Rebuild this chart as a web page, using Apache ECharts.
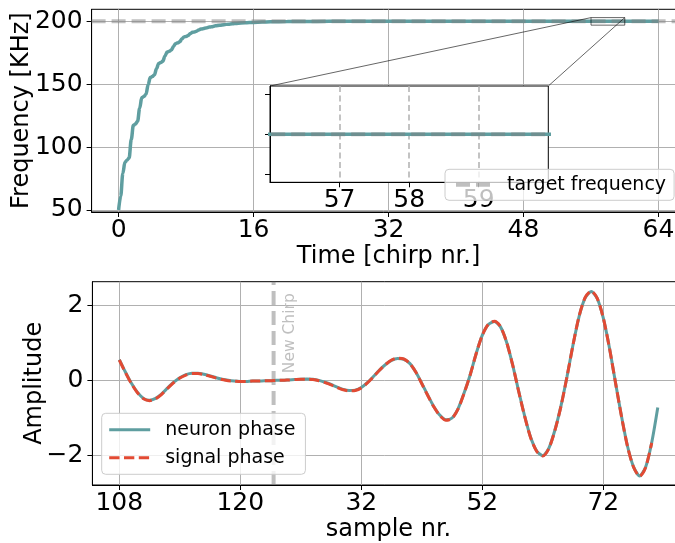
<!DOCTYPE html>
<html><head><meta charset="utf-8">
<script src="https://cdn.jsdelivr.net/npm/echarts@6/dist/echarts.min.js"></script>
<style>html,body{margin:0;padding:0;background:#fff}#c{width:675px;height:543px}</style>
</head><body><div id="c"></div><script>
// ---------- data ----------
const timeChirps = [0,0.25,0.5,0.75,1,1.25,1.5,1.75,2,2.25,2.5,2.75,3,3.25,3.5,3.75,4,4.25,4.5,4.75,5,5.25,5.5,5.75,6,6.25,6.5,6.75,7,7.25,7.5,7.75,8,8.25,8.5,8.75,9,9.25,9.5,9.75,10,10.5,10.75,11,11.5,12,12.5,13,13.5,14,15,16,17,18,20,22,25,64];
const freqKHz = [50,61,79,88,89.6,91.5,106,117.3,118.4,120.5,131,139.4,140.2,142,149.5,155.3,156.1,157.5,162.5,166.5,167.2,168.4,172.5,175.6,176.2,177.2,180,182.3,182.9,183.8,186,187.6,188,188.7,190.3,191.3,191.6,192.2,193.2,193.9,194.1,195,195.5,195.7,196.5,196.9,197.4,197.8,198.1,198.4,198.9,199.2,199.45,199.6,199.8,199.9,200,200];
const targetFrequency = 200;
const timeTicks = [0,16,32,48,64];
const freqTicks = [50,100,150,200];
const insetTimeTicks = [57,58,59];
const insetFreqTicks = [197.5,200,202.5];

const neuronPhase = [0.55,0.22,-0.08,-0.32,-0.48,-0.53,-0.48,-0.36,-0.2,-0.05,0.07,0.15,0.19,0.19,0.16,0.12,0.07,0.03,0.0,-0.02,-0.03,-0.03,-0.02,-0.02,-0.01,-0.01,0.0,0.0,0.01,0.02,0.03,0.035,0.03,0.0,-0.05,-0.11,-0.18,-0.24,-0.27,-0.26,-0.19,-0.06,0.1,0.27,0.42,0.53,0.58,0.56,0.45,0.22,-0.08,-0.4,-0.7,-0.93,-1.05,-1.0,-0.75,-0.33,0.15,0.72,1.2,1.48,1.56,1.42,1.02,0.42,-0.28,-0.95,-1.52,-1.88,-2.0,-1.8,-1.32,-0.68,0.1,0.95,1.7,2.19,2.36,2.17,1.65,0.87,-0.05,-0.95,-1.75,-2.3,-2.54,-2.3,-1.65,-0.72];
const signalPhase = [0.54,0.21,-0.09,-0.33,-0.49,-0.54,-0.49,-0.37,-0.21,-0.06,0.06,0.14,0.18,0.18,0.15,0.11,0.06,0.02,-0.01,-0.02,-0.03,-0.03,-0.02,-0.02,-0.01,-0.01,0.0,0.0,0.01,0.02,0.03,0.03,0.02,-0.01,-0.06,-0.12,-0.19,-0.25,-0.28,-0.27,-0.2,-0.07,0.09,0.27,0.42,0.54,0.59,0.57,0.45,0.22,-0.09,-0.41,-0.71,-0.94,-1.06,-1.01,-0.76,-0.34,0.15,0.72,1.2,1.49,1.57,1.43,1.02,0.42,-0.29,-0.96,-1.53,-1.89,-2.01,-1.81,-1.33,-0.69,0.1,0.95,1.71,2.2,2.37,2.18,1.65,0.87,-0.05,-0.96,-1.76,-2.31,-2.55,-2.31,-1.66];
const sampleTickPositions = [0,20,40,60,80];
const sampleTickLabels = ['108','120','32','52','72'];
const amplitudeTicks = [-2,0,2];
const newChirpSample = 25.5;
const newChirpTextAt = 0.19;

// ---------- ranges / styles ----------
const topX = [-3.2, 67.2], topY = [48.4, 209.6];
const botX = [-4.45, 93.45], botY = [-2.78, 2.62];
const insX = [56, 60], insY = [197, 203];
const FONT = 'DejaVu Sans';
const TEAL = '#5F9EA0', RED = '#E24A33', GRIDC = '#b0b0b0', GREYA = 'rgba(128,128,128,0.5)';

function xy(xs, ys){ return xs.map((x,i)=>[x, ys[i]]); }
function axisBase(extra){
  return Object.assign({
    type:'value',
    axisLine:{show:true, onZero:false, lineStyle:{color:'#000', width:1}},
    axisTick:{show:true, length:5, lineStyle:{color:'#000', width:1}},
    axisLabel:{color:'#000', fontFamily:FONT, fontSize:25},
    splitLine:{show:true, lineStyle:{color:GRIDC, width:1}},
    nameTextStyle:{color:'#000', fontFamily:FONT, fontSize:24},
    nameLocation:'middle'
  }, extra);
}
const minusFmt = v => (v < 0 ? '\u2212' + Math.abs(v) : String(v));

const chart = echarts.init(document.getElementById('c'), null, {renderer:'canvas'});
const gridBase = {show:true, borderColor:'#000', borderWidth:1, containLabel:false, outerBoundsMode:'none'};
const option = {
  animation:false,
  backgroundColor:'#fff',
  grid:[
    Object.assign({left:91.6, top:9.3, width:593.9, height:202.7, backgroundColor:'transparent'}, gridBase),
    Object.assign({left:92.4, top:281.7, width:592.3, height:203.3, backgroundColor:'transparent'}, gridBase),
    Object.assign({left:270, top:86, width:278.3, height:96.3, backgroundColor:'#fff', z:5}, gridBase)
  ],
  xAxis:[
    axisBase({gridIndex:0, min:topX[0], max:topX[1], name:'Time [chirp nr.]', nameGap:33,
      axisTick:{show:true, length:5, customValues:timeTicks, lineStyle:{color:'#000'}},
      axisLabel:{color:'#000', fontFamily:FONT, fontSize:25, margin:6, customValues:timeTicks}}),
    axisBase({gridIndex:1, min:botX[0], max:botX[1], name:'sample nr.', nameGap:33,
      axisTick:{show:true, length:5, customValues:sampleTickPositions, lineStyle:{color:'#000'}},
      axisLabel:{color:'#000', fontFamily:FONT, fontSize:25, margin:6, customValues:sampleTickPositions,
        formatter:v => sampleTickLabels[sampleTickPositions.indexOf(v)]}}),
    axisBase({gridIndex:2, min:insX[0], max:insX[1], z:6,
      axisTick:{show:true, length:5, customValues:insetTimeTicks, lineStyle:{color:'#000'}},
      axisLabel:{color:'#000', fontFamily:FONT, fontSize:25, margin:6, customValues:insetTimeTicks},
      splitLine:{show:true, lineStyle:{color:GRIDC, width:1.5, type:[6,3.5]}}})
  ],
  yAxis:[
    axisBase({gridIndex:0, min:topY[0], max:topY[1], name:'Frequency [KHz]', nameGap:58, nameMoveOverlap:false,
      axisTick:{show:true, length:5, customValues:freqTicks, lineStyle:{color:'#000'}},
      axisLabel:{color:'#000', fontFamily:FONT, fontSize:25, margin:9, customValues:freqTicks}}),
    axisBase({gridIndex:1, min:botY[0], max:botY[1], name:'Amplitude', nameGap:46, nameMoveOverlap:false,
      axisTick:{show:true, length:5, customValues:amplitudeTicks, lineStyle:{color:'#000'}},
      axisLabel:{color:'#000', fontFamily:FONT, fontSize:25, margin:9, customValues:amplitudeTicks, formatter:minusFmt}}),
    axisBase({gridIndex:2, min:insY[0], max:insY[1], z:6,
      axisTick:{show:true, length:5, customValues:insetFreqTicks, lineStyle:{color:'#000'}},
      axisLabel:{show:false},
      splitLine:{show:false}})
  ],
  legend:[
    {data:['target frequency'], left:445, top:169.3, itemWidth:40, itemHeight:14, padding:[6,8,6,9],
     backgroundColor:'rgba(255,255,255,0.75)', borderColor:'#cccccc', borderWidth:1, borderRadius:4,
     itemStyle:{opacity:0}, lineStyle:{width:4, type:[14,6], color:GREYA},
     textStyle:{fontFamily:FONT, fontSize:19, color:'#000', padding:[0,0,0,6]}, selectedMode:false, z:20},
    {data:[{name:'neuron phase', lineStyle:{width:3, color:TEAL, type:'solid'}},
           {name:'signal phase', lineStyle:{width:3, color:RED, type:[10.3,4.5]}}],
     orient:'vertical', left:101.7, top:413.3, itemWidth:41, itemHeight:14, itemGap:9,
     padding:[7,10,7,6], backgroundColor:'rgba(255,255,255,0.8)', borderColor:'#cccccc', borderWidth:1, borderRadius:4,
     itemStyle:{opacity:0}, lineStyle:{width:3},
     textStyle:{fontFamily:FONT, fontSize:19, color:'#000', padding:[0,0,0,10]}, selectedMode:false, z:20}
  ],
  series:[
    {name:'frequency', type:'line', xAxisIndex:0, yAxisIndex:0, data:xy(timeChirps, freqKHz), symbol:'none',
     smooth:0.35, smoothMonotone:'x', lineStyle:{color:TEAL, width:3.5}, z:2},
    {name:'target frequency', type:'line', xAxisIndex:0, yAxisIndex:0, data:[[topX[0],targetFrequency],[topX[1],targetFrequency]],
     symbol:'none', itemStyle:{color:GREYA}, lineStyle:{color:GREYA, width:4, type:[14,6]}, z:3},
    {name:'inset box', type:'line', xAxisIndex:0, yAxisIndex:0,
     data:[[insX[0],insY[0]],[insX[1],insY[0]],[insX[1],insY[1]],[insX[0],insY[1]],[insX[0],insY[0]]],
     symbol:'none', lineStyle:{color:'rgba(0,0,0,0.6)', width:1}, z:3, silent:true},
    {name:'frequency inset', type:'line', xAxisIndex:2, yAxisIndex:2, data:xy(timeChirps, freqKHz), symbol:'none',
     lineStyle:{color:TEAL, width:3.5, cap:'butt'}, z:7, clip:true},
    {name:'target inset', type:'line', xAxisIndex:2, yAxisIndex:2, data:[[topX[0],targetFrequency],[topX[1],targetFrequency]],
     symbol:'none', lineStyle:{color:GREYA, width:4, type:[14,6], cap:'butt'}, z:8, clip:true},
    {name:'new chirp', type:'line', xAxisIndex:1, yAxisIndex:1, data:[[newChirpSample,botY[0]],[newChirpSample,botY[1]]],
     symbol:'none', lineStyle:{color:GREYA, width:4, type:[14,6]}, z:1},
    {name:'neuron phase', type:'line', xAxisIndex:1, yAxisIndex:1, data:neuronPhase.map((v,i)=>[i,v]), symbol:'none',
     smooth:0.25, itemStyle:{color:TEAL}, lineStyle:{color:TEAL, width:3}, z:2},
    {name:'signal phase', type:'line', xAxisIndex:1, yAxisIndex:1, data:signalPhase.map((v,i)=>[i,v]), symbol:'none',
     smooth:0.25, itemStyle:{color:RED}, lineStyle:{color:RED, width:3, type:[10.3,4.5]}, z:3}
  ]
};
chart.setOption(option);

// connectors and annotation text computed through the axes
const pInsTL = chart.convertToPixel({xAxisIndex:2, yAxisIndex:2}, [insX[0], insY[1]]);
const pInsTR = chart.convertToPixel({xAxisIndex:2, yAxisIndex:2}, [insX[1], insY[1]]);
const pBoxTL = chart.convertToPixel({xAxisIndex:0, yAxisIndex:0}, [insX[0], insY[1]]);
const pBoxTR = chart.convertToPixel({xAxisIndex:0, yAxisIndex:0}, [insX[1], insY[1]]);
const pText = chart.convertToPixel({xAxisIndex:1, yAxisIndex:1}, [newChirpSample, newChirpTextAt]);
chart.setOption({graphic:[
  {type:'line', shape:{x1:pInsTL[0], y1:pInsTL[1], x2:pBoxTL[0], y2:pBoxTL[1]}, style:{stroke:'rgba(0,0,0,0.6)', lineWidth:1}, z:4, silent:true},
  {type:'line', shape:{x1:pInsTR[0], y1:pInsTR[1], x2:pBoxTR[0], y2:pBoxTR[1]}, style:{stroke:'rgba(0,0,0,0.6)', lineWidth:1}, z:4, silent:true},
  {type:'text', x:pText[0]+16, y:pText[1], rotation:Math.PI/2, z:4, silent:true,
   style:{text:'New Chirp', fill:'#bfbfbf', font:'15.5px "DejaVu Sans"', align:'left', verticalAlign:'middle'}}
]});
</script></body></html>
